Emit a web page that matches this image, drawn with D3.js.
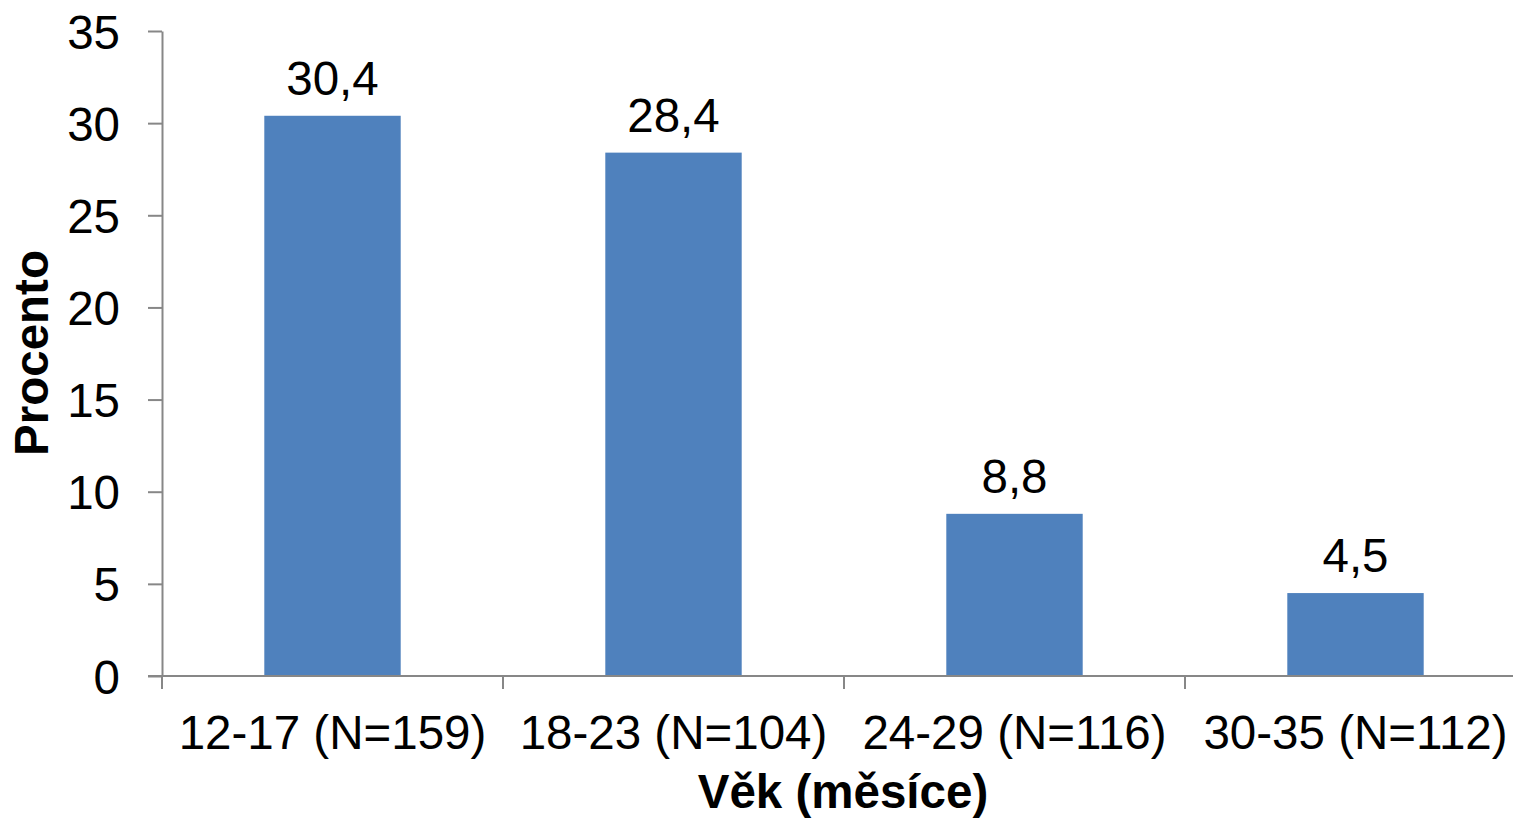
<!DOCTYPE html>
<html>
<head>
<meta charset="utf-8">
<script src="https://cdn.jsdelivr.net/npm/d3@7"></script>
<style>
  html, body { margin: 0; padding: 0; background: #ffffff; }
  svg { display: block; }
  text { font-family: Arial, "Liberation Sans", sans-serif; fill: #000; }
</style>
</head>
<body>
<svg id="chart" width="1513" height="819"></svg>
<script>
// Age groups (months) with sample sizes, and the share in percent
const categories = ["12-17 (N=159)", "18-23 (N=104)", "24-29 (N=116)", "30-35 (N=112)"];
const values = [30.4, 28.4, 8.8, 4.5];
const yTicks = [0, 5, 10, 15, 20, 25, 30, 35];
const yTitle = "Procento";
const xTitle = "Věk (měsíce)";

const svg = d3.select("#chart");
const axisColor = "#878787";
const barColor = "#4F81BD";
const fontSize = 47.5;

const plotLeft = 162, plotRight = 1526, plotTop = 31, plotBottom = 676;

const x = d3.scaleBand().domain(categories).range([plotLeft, plotRight]).padding(0);
const y = d3.scaleLinear().domain([0, 35]).range([plotBottom, plotTop]);
const bw = x.bandwidth();

// Bars
svg.append("g").selectAll("rect")
  .data(values)
  .join("rect")
  .attr("x", (d, i) => x(categories[i]) + bw * 0.3)
  .attr("width", bw * 0.4)
  .attr("y", d => y(d))
  .attr("height", d => y(0) - y(d))
  .attr("fill", barColor);

// Value labels (Czech decimal comma)
svg.append("g").selectAll("text")
  .data(values)
  .join("text")
  .attr("x", (d, i) => x(categories[i]) + bw / 2)
  .attr("y", d => y(d) - 21)
  .attr("text-anchor", "middle")
  .attr("font-size", fontSize)
  .text(d => d.toFixed(1).replace(".", ","));

// Y axis
const yAxis = svg.append("g")
  .attr("transform", `translate(${plotLeft},0)`)
  .call(d3.axisLeft(y).tickValues(yTicks).tickSize(14).tickPadding(28).tickSizeOuter(0));
yAxis.select(".domain").attr("stroke", axisColor).attr("stroke-width", 2);
yAxis.selectAll(".tick line").attr("stroke", axisColor).attr("stroke-width", 2);
yAxis.selectAll(".tick text")
  .attr("font-size", fontSize)
  .attr("font-family", "Arial, 'Liberation Sans', sans-serif")
  .attr("fill", "#000")
  .attr("dy", "0.36em");

// X axis: ticks between categories, line along zero
const boundaries = categories.map(c => x(c)).concat([plotRight]);
const xAxisG = svg.append("g");
xAxisG.append("line")
  .attr("x1", plotLeft - 14).attr("x2", plotRight)
  .attr("y1", y(0)).attr("y2", y(0))
  .attr("stroke", axisColor).attr("stroke-width", 2);
xAxisG.selectAll("line.tick")
  .data(boundaries)
  .join("line")
  .attr("class", "tick")
  .attr("x1", d => d).attr("x2", d => d)
  .attr("y1", y(0)).attr("y2", y(0) + 13)
  .attr("stroke", axisColor).attr("stroke-width", 2);
xAxisG.selectAll("text")
  .data(categories)
  .join("text")
  .attr("x", d => x(d) + bw / 2)
  .attr("y", 749)
  .attr("text-anchor", "middle")
  .attr("font-size", fontSize)
  .text(d => d);

// Axis titles
svg.append("text")
  .attr("transform", `translate(48,353) rotate(-90)`)
  .attr("text-anchor", "middle")
  .attr("font-size", fontSize)
  .attr("font-weight", "bold")
  .text(yTitle);

svg.append("text")
  .attr("x", 843)
  .attr("y", 808)
  .attr("text-anchor", "middle")
  .attr("font-size", fontSize)
  .attr("font-weight", "bold")
  .text(xTitle);
</script>
</body>
</html>
